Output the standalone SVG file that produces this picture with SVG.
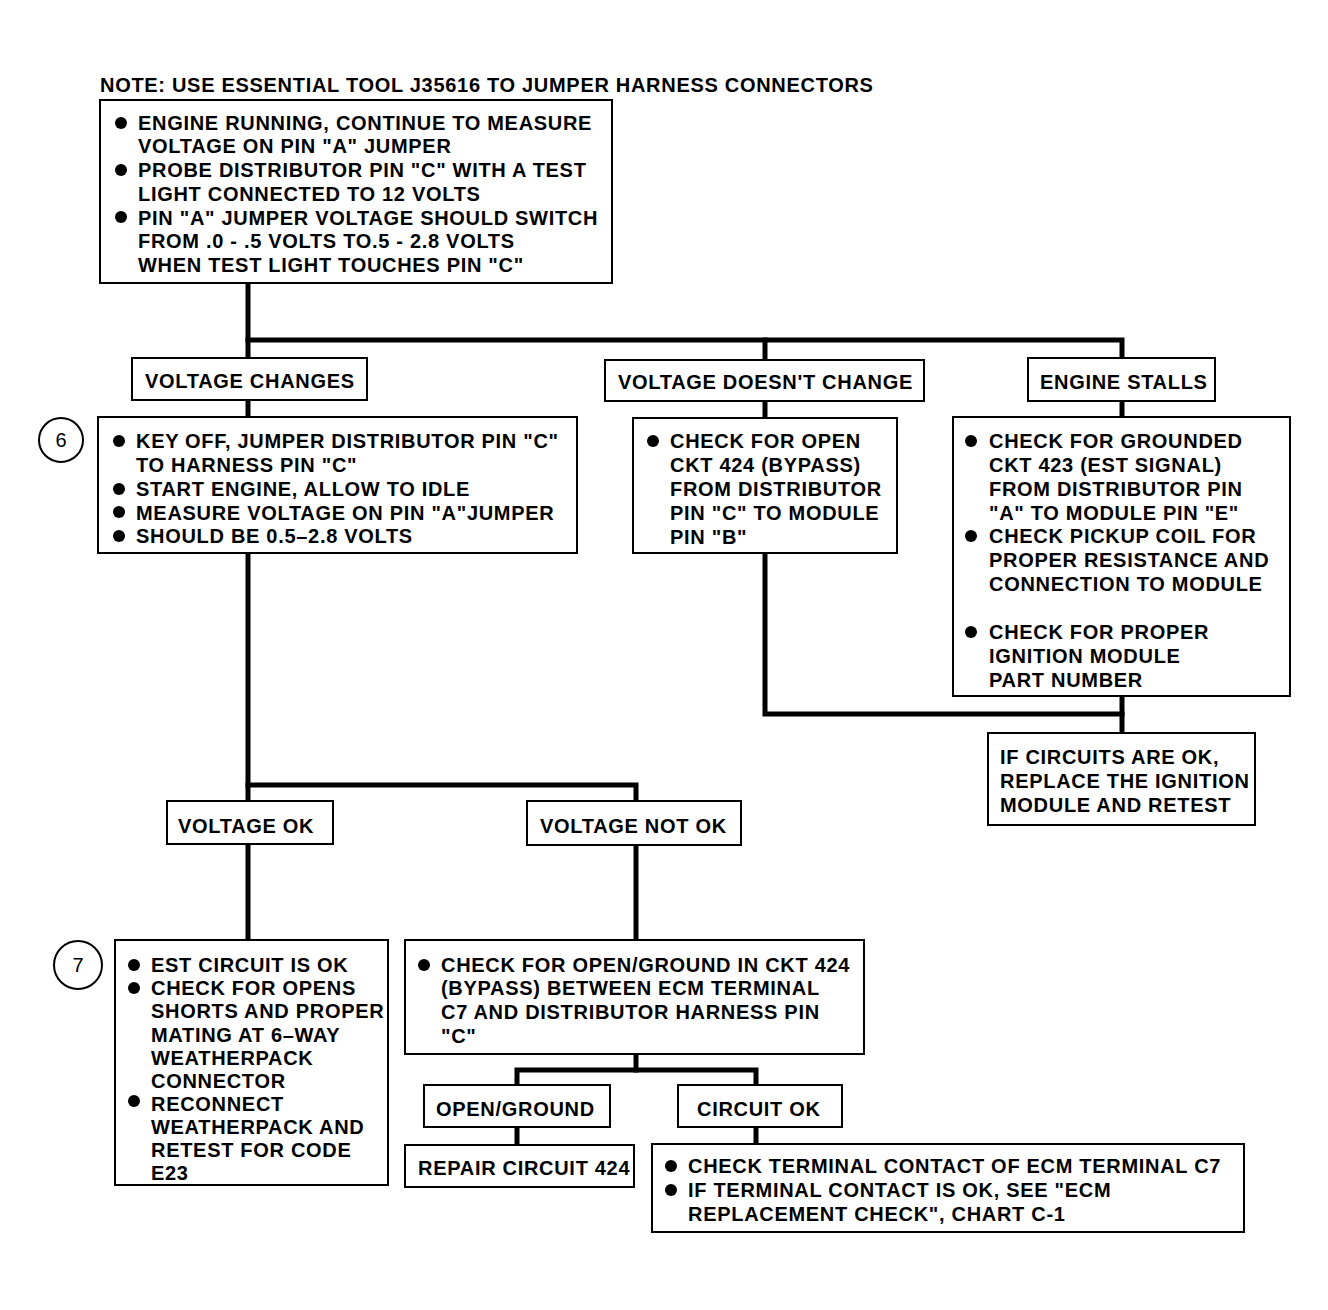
<svg xmlns="http://www.w3.org/2000/svg" width="1328" height="1310" viewBox="0 0 1328 1310">
<style>
text{font-family:"Liberation Sans",Arial,sans-serif;font-weight:bold;font-size:20px;letter-spacing:0.7px;fill:#000}
.box{fill:#fff;stroke:#000;stroke-width:2}
.c{fill:none;stroke:#000;stroke-width:5;stroke-linecap:square;stroke-linejoin:miter}
.b{fill:#000}
.circ{fill:#fff;stroke:#000;stroke-width:2}
</style>
<rect width="1328" height="1310" fill="#fff"/>
<g id="connectors">
<polyline class="c" points="248,284 248,357"/>
<polyline class="c" points="248,340 1122,340 1122,357"/>
<polyline class="c" points="765,340 765,359"/>
<polyline class="c" points="248,401 248,416"/>
<polyline class="c" points="765,402 765,417"/>
<polyline class="c" points="1122,402 1122,416"/>
<polyline class="c" points="248,554 248,800"/>
<polyline class="c" points="248,785 636,785 636,800"/>
<polyline class="c" points="765,554 765,714 1122,714"/>
<polyline class="c" points="1122,697 1122,732"/>
<polyline class="c" points="248,845 248,939"/>
<polyline class="c" points="636,846 636,939"/>
<polyline class="c" points="636,1055 636,1070"/>
<polyline class="c" points="517,1084 517,1070 756,1070 756,1084"/>
<polyline class="c" points="517,1128 517,1144"/>
<polyline class="c" points="756,1128 756,1143"/>
</g>
<g id="note"><text x="100" y="92">NOTE: USE ESSENTIAL TOOL J35616 TO JUMPER HARNESS CONNECTORS</text></g>
<g id="n-start">
<rect class="box" x="100" y="100" width="512" height="183"/>
<circle class="b" cx="121" cy="123" r="6"/><circle class="b" cx="121" cy="170" r="6"/><circle class="b" cx="121" cy="217" r="6"/>
<text x="138" y="130">ENGINE RUNNING, CONTINUE TO MEASURE</text>
<text x="138" y="153">VOLTAGE ON PIN "A" JUMPER</text>
<text x="138" y="177">PROBE DISTRIBUTOR PIN "C" WITH A TEST</text>
<text x="138" y="201">LIGHT CONNECTED TO 12 VOLTS</text>
<text x="138" y="225">PIN "A" JUMPER VOLTAGE SHOULD SWITCH</text>
<text x="138" y="248">FROM .0 - .5 VOLTS TO.5 - 2.8 VOLTS</text>
<text x="138" y="272">WHEN TEST LIGHT TOUCHES PIN "C"</text>
</g>
<g id="n-vchanges"><rect class="box" x="132" y="358" width="235" height="42"/><text x="145" y="388">VOLTAGE CHANGES</text></g>
<g id="n-vnochange"><rect class="box" x="605" y="360" width="319" height="41"/><text x="618" y="389">VOLTAGE DOESN'T CHANGE</text></g>
<g id="n-stalls"><rect class="box" x="1028" y="358" width="187" height="43"/><text x="1040" y="389">ENGINE STALLS</text></g>
<g id="n-step6">
<circle class="circ" cx="61" cy="440" r="22"/><text x="61" y="447" text-anchor="middle" style="font-weight:normal;letter-spacing:0">6</text>
<rect class="box" x="98" y="417" width="479" height="136"/>
<circle class="b" cx="119" cy="441" r="6"/><circle class="b" cx="119" cy="489" r="6"/><circle class="b" cx="119" cy="512" r="6"/><circle class="b" cx="119" cy="536" r="6"/>
<text x="136" y="448">KEY OFF, JUMPER DISTRIBUTOR PIN "C"</text>
<text x="136" y="472">TO HARNESS PIN "C"</text>
<text x="136" y="496">START ENGINE, ALLOW TO IDLE</text>
<text x="136" y="520">MEASURE VOLTAGE ON PIN "A"JUMPER</text>
<text x="136" y="543">SHOULD BE 0.5–2.8 VOLTS</text>
</g>
<g id="n-checkopen">
<rect class="box" x="633" y="418" width="264" height="135"/>
<circle class="b" cx="653" cy="441" r="6"/>
<text x="670" y="448">CHECK FOR OPEN</text>
<text x="670" y="472">CKT 424 (BYPASS)</text>
<text x="670" y="496">FROM DISTRIBUTOR</text>
<text x="670" y="520">PIN "C" TO MODULE</text>
<text x="670" y="544">PIN "B"</text>
</g>
<g id="n-checkgnd">
<rect class="box" x="953" y="417" width="337" height="279"/>
<circle class="b" cx="971" cy="441" r="6"/><circle class="b" cx="971" cy="536" r="6"/><circle class="b" cx="971" cy="632" r="6"/>
<text x="989" y="448">CHECK FOR GROUNDED</text>
<text x="989" y="472">CKT 423 (EST SIGNAL)</text>
<text x="989" y="496">FROM DISTRIBUTOR PIN</text>
<text x="989" y="520">"A" TO MODULE PIN "E"</text>
<text x="989" y="543">CHECK PICKUP COIL FOR</text>
<text x="989" y="567">PROPER RESISTANCE AND</text>
<text x="989" y="591">CONNECTION TO MODULE</text>
<text x="989" y="639">CHECK FOR PROPER</text>
<text x="989" y="663">IGNITION MODULE</text>
<text x="989" y="687">PART NUMBER</text>
</g>
<g id="n-replace">
<rect class="box" x="988" y="733" width="267" height="92"/>
<text x="1000" y="764">IF CIRCUITS ARE OK,</text>
<text x="1000" y="788">REPLACE THE IGNITION</text>
<text x="1000" y="812">MODULE AND RETEST</text>
</g>
<g id="n-vok"><rect class="box" x="167" y="801" width="166" height="43"/><text x="178" y="833">VOLTAGE OK</text></g>
<g id="n-vnotok"><rect class="box" x="527" y="801" width="214" height="44"/><text x="540" y="833">VOLTAGE NOT OK</text></g>
<g id="n-step7">
<circle class="circ" cx="78" cy="965" r="24"/><text x="78" y="972" text-anchor="middle" style="font-weight:normal;letter-spacing:0">7</text>
<rect class="box" x="115" y="940" width="273" height="245"/>
<circle class="b" cx="134" cy="965" r="6"/><circle class="b" cx="134" cy="988" r="6"/><circle class="b" cx="134" cy="1101" r="6"/>
<text x="151" y="972">EST CIRCUIT IS OK</text>
<text x="151" y="995">CHECK FOR OPENS</text>
<text x="151" y="1018">SHORTS AND PROPER</text>
<text x="151" y="1042">MATING AT 6–WAY</text>
<text x="151" y="1065">WEATHERPACK</text>
<text x="151" y="1088">CONNECTOR</text>
<text x="151" y="1111">RECONNECT</text>
<text x="151" y="1134">WEATHERPACK AND</text>
<text x="151" y="1157">RETEST FOR CODE</text>
<text x="151" y="1180">E23</text>
</g>
<g id="n-checkckt">
<rect class="box" x="405" y="940" width="459" height="114"/>
<circle class="b" cx="424" cy="965" r="6"/>
<text x="441" y="972">CHECK FOR OPEN/GROUND IN CKT 424</text>
<text x="441" y="995">(BYPASS) BETWEEN ECM TERMINAL</text>
<text x="441" y="1019">C7 AND DISTRIBUTOR HARNESS PIN</text>
<text x="441" y="1043">"C"</text>
</g>
<g id="n-opengnd"><rect class="box" x="424" y="1085" width="186" height="42"/><text x="436" y="1116">OPEN/GROUND</text></g>
<g id="n-cktok"><rect class="box" x="678" y="1085" width="164" height="42"/><text x="697" y="1116">CIRCUIT OK</text></g>
<g id="n-repair"><rect class="box" x="405" y="1145" width="229" height="42"/><text x="418" y="1175">REPAIR CIRCUIT 424</text></g>
<g id="n-terminal">
<rect class="box" x="652" y="1144" width="592" height="88"/>
<circle class="b" cx="671" cy="1166" r="6"/><circle class="b" cx="671" cy="1190" r="6"/>
<text x="688" y="1173">CHECK TERMINAL CONTACT OF ECM TERMINAL C7</text>
<text x="688" y="1197">IF TERMINAL CONTACT IS OK, SEE "ECM</text>
<text x="688" y="1221">REPLACEMENT CHECK", CHART C-1</text>
</g>
</svg>
